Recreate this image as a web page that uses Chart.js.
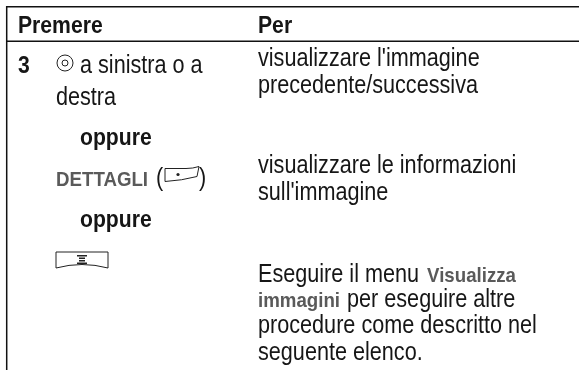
<!DOCTYPE html>
<html>
<head>
<meta charset="utf-8">
<title>Premere / Per</title>
<script src="https://cdn.jsdelivr.net/npm/chart.js@4/dist/chart.umd.min.js"></script>
<style>
    html, body { margin: 0; padding: 0; background: #fff; }
    canvas { display: block; }
</style>
</head>
<body>
<canvas id="tableChart" width="579" height="370"></canvas>
<script>
// header row
const headerLabels = ["Premere", "Per"];
const headerX = [18, 258];
const headerY = [32.5, 32.5];

// left column, plain text
const leftLabels = ["a sinistra o a", "destra", "(", ")"];
const leftX = [80, 56, 156, 199];
const leftY = [73, 105, 186, 186];

const stepLabels = ["3"];
const stepX = [18];
const stepY = [73];

const orLabels = ["oppure", "oppure"];
const orX = [80, 80];
const orY = [145, 227];

const softkeyLabels = ["DETTAGLI"];
const softkeyX = [56];
const softkeyY = [186];

// right column
const rightLabels = [
    "visualizzare l'immagine", "precedente/successiva",
    "visualizzare le informazioni", "sull'immagine",
    "Eseguire il menu", "per eseguire altre",
    "procedure come descritto nel", "seguente elenco."
];
const rightX = [258, 258, 258, 258, 258, 347, 258, 258];
const rightY = [66, 93, 173, 200, 282, 307, 333, 360];

const menuLabels = ["Visualizza", "immagini"];
const menuX = [427, 258];
const menuY = [282, 307];

// table rules
const ruleTopX = [6, 579];
const ruleTopY = [6.7, 6.7];
const ruleHeadX = [6, 579];
const ruleHeadY = [41.3, 41.3];
const ruleLeftX = [6.7, 6.7];
const ruleLeftY = [6, 370];

// key glyphs
const navX = [65];
const navY = [63];
const softX = [178];
const softY = [174.5];
const menuKeyX = [82];
const menuKeyY = [260];

const regular = { font: '25px "Liberation Sans"', stretch: 0.865, color: "#161616" };
const bold = { font: 'bold 23px "Liberation Sans"', stretch: 0.92, color: "#161616" };
const grey = { font: 'bold 21px "Liberation Sans"', stretch: 0.89, color: "#5a5a5a" };

function pts(xs, ys) {
    return xs.map((x, i) => ({ x: x, y: ys[i] }));
}

function textSet(labels, xs, ys, style) {
    return { data: pts(xs, ys), labels: labels, textStyle: style, pointRadius: 0, showLine: false };
}

function ruleSet(xs, ys) {
    return { data: pts(xs, ys), showLine: true, borderColor: "#111", borderWidth: 1.5, pointRadius: 0 };
}

function drawSoftkey(ctx, x, y) {
    ctx.beginPath();
    ctx.moveTo(x - 13, y - 6);
    ctx.lineTo(x + 8, y - 6);
    ctx.quadraticCurveTo(x + 15, y - 6, x + 21, y - 8);
    ctx.lineTo(x + 19, y + 2);
    ctx.quadraticCurveTo(x + 4, y + 6, x - 13, y + 7);
    ctx.closePath();
    ctx.stroke();
    ctx.beginPath();
    ctx.arc(x, y, 1.6, 0, Math.PI * 2);
    ctx.fill();
}

function drawMenuKey(ctx, x, y) {
    ctx.beginPath();
    ctx.moveTo(x - 26, y + 8);
    ctx.lineTo(x - 26, y - 8);
    ctx.lineTo(x + 26, y - 8);
    ctx.lineTo(x + 26, y + 8);
    ctx.quadraticCurveTo(x, y + 1, x - 26, y + 8);
    ctx.stroke();
    ctx.fillRect(x - 5, y - 5, 10, 1.5);
    ctx.fillRect(x - 3, y - 2.5, 6, 1.5);
    ctx.fillRect(x - 3, y, 6, 1.5);
    ctx.fillRect(x - 5, y + 2.5, 10, 1.5);
}

// writes the labels and the two key shapes at the scale positions of their points
const tablePlugin = {
    id: "tablePlugin",
    afterDatasetsDraw(chart) {
        const ctx = chart.ctx;
        chart.data.datasets.forEach((ds, i) => {
            const meta = chart.getDatasetMeta(i);
            if (ds.textStyle) {
                ctx.save();
                ctx.font = ds.textStyle.font;
                ctx.fillStyle = ds.textStyle.color;
                ctx.textBaseline = "alphabetic";
                meta.data.forEach((p, j) => {
                    ctx.save();
                    ctx.translate(p.x, p.y);
                    ctx.scale(ds.textStyle.stretch, 1);
                    ctx.fillText(ds.labels[j], 0, 0);
                    ctx.restore();
                });
                ctx.restore();
            }
            if (ds.keyShape) {
                ctx.save();
                ctx.strokeStyle = "#222";
                ctx.fillStyle = "#222";
                ctx.lineWidth = 1;
                meta.data.forEach(p => ds.keyShape(ctx, p.x, p.y));
                ctx.restore();
            }
        });
    }
};

new Chart(document.getElementById("tableChart"), {
    type: "scatter",
    data: {
        datasets: [
            ruleSet(ruleTopX, ruleTopY),
            ruleSet(ruleHeadX, ruleHeadY),
            ruleSet(ruleLeftX, ruleLeftY),
            textSet(headerLabels, headerX, headerY, bold),
            textSet(stepLabels, stepX, stepY, bold),
            textSet(leftLabels, leftX, leftY, regular),
            textSet(orLabels, orX, orY, bold),
            textSet(softkeyLabels, softkeyX, softkeyY, grey),
            textSet(rightLabels, rightX, rightY, regular),
            textSet(menuLabels, menuX, menuY, grey),
            { data: pts(navX, navY), pointStyle: "circle", pointRadius: 8, borderColor: "#222", borderWidth: 1, backgroundColor: "transparent", showLine: false },
            { data: pts(navX, navY), pointStyle: "circle", pointRadius: 3, borderColor: "#222", borderWidth: 1, backgroundColor: "transparent", showLine: false },
            { data: pts(softX, softY), keyShape: drawSoftkey, pointRadius: 0, showLine: false },
            { data: pts(menuKeyX, menuKeyY), keyShape: drawMenuKey, pointRadius: 0, showLine: false }
        ]
    },
    options: {
        responsive: false,
        animation: false,
        layout: { padding: 0, autoPadding: false },
        plugins: { legend: { display: false }, tooltip: { enabled: false } },
        scales: {
            x: { type: "linear", display: false, min: 0, max: 579 },
            y: { type: "linear", display: false, min: 0, max: 370, reverse: true }
        }
    },
    plugins: [tablePlugin]
});
</script>
</body>
</html>
